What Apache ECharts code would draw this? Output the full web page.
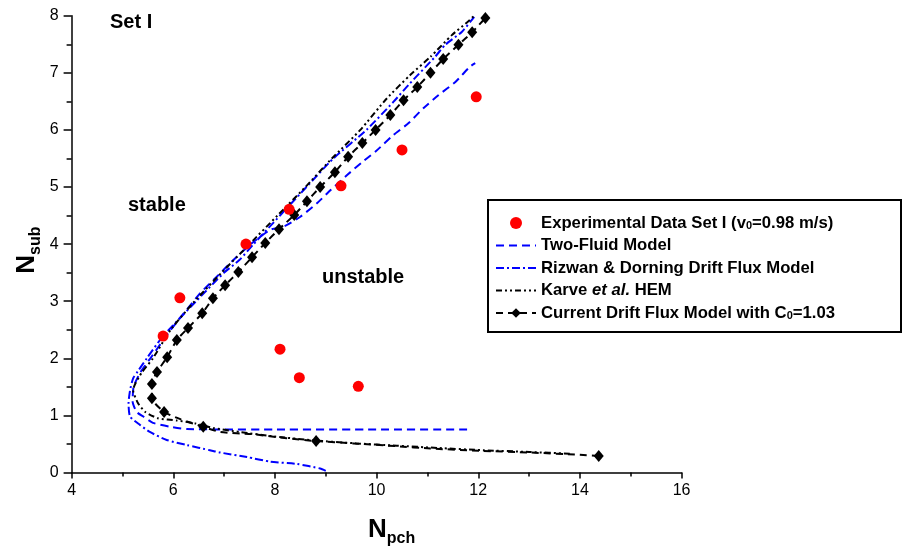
<!DOCTYPE html>
<html><head><meta charset="utf-8">
<script src="https://cdn.jsdelivr.net/npm/echarts@6/dist/echarts.min.js"></script>
<style>html,body{margin:0;padding:0;background:#fff}#c{width:903px;height:554px}</style>
</head><body><div id="c"></div>
<script>
// Experimental data Set I
const expX = [5.80, 6.13, 7.43, 8.28, 9.30, 10.50, 11.96, 8.10, 8.48, 9.64];
const expY = [2.39, 3.06, 4.00, 4.61, 5.02, 5.65, 6.58, 2.16, 1.66, 1.51];

// Two-Fluid Model
const tfX = [11.78, 10.0, 8.0, 7.0, 6.27, 5.94, 5.60, 5.41, 5.28, 5.20, 5.22, 5.35, 5.55, 5.95, 6.53, 6.79, 7.25, 7.58, 7.91, 8.20, 8.50, 8.82, 9.10, 9.42, 9.71, 9.99, 10.33, 10.63, 10.92, 11.22, 11.55, 11.84, 11.94];
const tfY = [0.755, 0.755, 0.755, 0.755, 0.76, 0.80, 0.87, 0.98, 1.06, 1.25, 1.50, 1.75, 2.00, 2.50, 3.14, 3.37, 3.78, 4.04, 4.25, 4.32, 4.48, 4.71, 4.95, 5.21, 5.43, 5.63, 5.91, 6.12, 6.38, 6.61, 6.84, 7.11, 7.17];

// Rizwan & Dorning Drift Flux Model
const rdX = [9.00, 8.89, 8.43, 7.91, 7.45, 6.92, 6.72, 6.27, 5.87, 5.54, 5.35, 5.15, 5.12, 5.15, 5.21, 5.30, 5.48, 5.80, 6.45, 7.00, 7.30, 7.58, 8.10, 8.62, 9.15, 9.80, 10.33, 10.63, 11.15, 11.35, 11.68, 11.92];
const rdY = [0.03, 0.07, 0.15, 0.19, 0.27, 0.35, 0.39, 0.48, 0.57, 0.71, 0.83, 0.98, 1.21, 1.44, 1.65, 1.77, 2.00, 2.39, 3.00, 3.50, 3.72, 4.00, 4.50, 5.00, 5.50, 6.00, 6.49, 6.79, 7.28, 7.49, 7.72, 7.98];

// Karve et al. HEM
const kvX = [13.80, 13.00, 12.10, 11.20, 10.40, 9.60, 8.80, 8.00, 7.30, 6.79, 6.43, 6.07, 5.70, 5.45, 5.31, 5.21, 5.25, 5.38, 5.60, 5.95, 6.42, 6.95, 7.50, 8.05, 8.60, 9.12, 9.68, 10.20, 10.66, 11.06, 11.48, 11.80, 11.92];
const kvY = [0.33, 0.36, 0.39, 0.43, 0.47, 0.51, 0.56, 0.63, 0.71, 0.78, 0.86, 0.91, 0.95, 1.06, 1.21, 1.44, 1.55, 1.75, 2.00, 2.50, 3.00, 3.50, 4.00, 4.50, 5.00, 5.50, 6.00, 6.55, 6.96, 7.28, 7.66, 7.90, 8.00];

// Current Drift Flux Model with C0=1.03 (mark: 1 = diamond drawn at point)
const cdX = [14.37, 14.00, 13.02, 12.04, 11.06, 10.40, 9.54, 8.81, 8.23, 7.57, 6.92, 6.59, 6.15, 5.82, 5.58, 5.58, 5.68, 5.88, 6.07, 6.29, 6.57, 6.78, 7.02, 7.28, 7.55, 7.81, 8.08, 8.38, 8.63, 8.89, 9.18, 9.44, 9.72, 9.98, 10.27, 10.53, 10.80, 11.06, 11.31, 11.61, 11.88, 12.14];
const cdY = [0.29, 0.31, 0.35, 0.38, 0.42, 0.46, 0.51, 0.55, 0.60, 0.67, 0.71, 0.80, 0.93, 1.06, 1.30, 1.55, 1.76, 2.02, 2.32, 2.53, 2.79, 3.05, 3.28, 3.51, 3.77, 4.02, 4.26, 4.51, 4.75, 5.00, 5.26, 5.53, 5.77, 6.00, 6.26, 6.52, 6.75, 7.00, 7.24, 7.49, 7.71, 7.96];
const cdMark = [1, 0, 0, 0, 0, 0, 0, 1, 0, 0, 0, 1, 0, 1, 1, 1, 1, 1, 1, 1, 1, 1, 1, 1, 1, 1, 1, 1, 1, 1, 1, 1, 1, 1, 1, 1, 1, 1, 1, 1, 1, 1];

const xTicks = {min: 4, max: 16, interval: 2};
const yTicks = {min: 0, max: 8, interval: 1};

const names = ['Experimental Data Set I (v0=0.98 m/s)', 'Two-Fluid Model', 'Rizwan & Dorning Drift Flux Model', 'Karve et al. HEM', 'Current Drift Flux Model with C0=1.03'];
const legendRich = {
  ['Experimental Data Set I (v0=0.98 m/s)']: '{b|Experimental Data Set I (v}{s|0}{b|=0.98 m/s)}',
  ['Two-Fluid Model']: '{b|Two-Fluid Model}',
  ['Rizwan & Dorning Drift Flux Model']: '{b|Rizwan & Dorning Drift Flux Model}',
  ['Karve et al. HEM']: '{b|Karve }{i|et al.}{b| HEM}',
  ['Current Drift Flux Model with C0=1.03']: '{b|Current Drift Flux Model with C}{s|0}{b|=1.03}'
};

const FF = '"Liberation Sans", Arial, sans-serif';
const pairs = (xs, ys) => xs.map((x, i) => [x, ys[i]]);

const chart = echarts.init(document.getElementById('c'), null, {renderer: 'canvas'});
chart.setOption({
  animation: false,
  backgroundColor: '#fff',
  grid: {left: 71.6, right: 221.4, top: 15.7, bottom: 81.5, containLabel: false, outerBoundsMode: 'none'},
  xAxis: {
    type: 'value', min: xTicks.min, max: xTicks.max, interval: xTicks.interval,
    axisLine: {show: true, onZero: false, lineStyle: {color: '#000', width: 1.5}},
    axisTick: {show: true, length: 6, lineStyle: {color: '#000', width: 1.5}},
    minorTick: {show: true, splitNumber: 2, length: 4, lineStyle: {color: '#000', width: 1.5}},
    splitLine: {show: false}, minorSplitLine: {show: false},
    axisLabel: {color: '#000', fontSize: 16, fontFamily: FF, margin: 10},
    name: '{n|N}{s|pch}', nameLocation: 'middle', nameGap: 44, nameMoveOverlap: false,
    nameTextStyle: {rich: {
      n: {fontSize: 26, fontWeight: 'bold', fontFamily: FF, color: '#000', lineHeight: 26, padding: [0, 0, 0, 30]},
      s: {fontSize: 16, fontWeight: 'bold', fontFamily: FF, color: '#000', lineHeight: 16, padding: [18, 0, 0, 0]}
    }}
  },
  yAxis: {
    type: 'value', min: yTicks.min, max: yTicks.max, interval: yTicks.interval,
    axisLine: {show: true, onZero: false, lineStyle: {color: '#000', width: 1.5}},
    axisTick: {show: true, length: 8, lineStyle: {color: '#000', width: 1.5}},
    minorTick: {show: true, splitNumber: 2, length: 5, lineStyle: {color: '#000', width: 1.5}},
    splitLine: {show: false}, minorSplitLine: {show: false},
    axisLabel: {color: '#000', fontSize: 16, fontFamily: FF, margin: 13},
    name: '{n|N}{s|sub}', nameLocation: 'middle', nameGap: 32, nameRotate: 90, nameMoveOverlap: false,
    nameTextStyle: {rich: {
      n: {fontSize: 26, fontWeight: 'bold', fontFamily: FF, color: '#000', lineHeight: 26},
      s: {fontSize: 16, fontWeight: 'bold', fontFamily: FF, color: '#000', lineHeight: 16, padding: [18, 12, 0, 0]}
    }}
  },
  legend: {
    orient: 'vertical', left: 488, top: 200,
    itemWidth: 40, itemHeight: 12, itemGap: 5.5,
    padding: [14.5, 10, 12, 7],
    backgroundColor: 'transparent', borderWidth: 0,
    selectedMode: false,
    formatter: n => legendRich[n],
    textStyle: {color: '#000', fontFamily: FF, fontWeight: 'bold', fontSize: 16.7, lineHeight: 12,
      rich: {
        b: {fontSize: 16.7, fontWeight: 'bold', fontFamily: FF, color: '#000', lineHeight: 12},
        i: {fontSize: 16.7, fontWeight: 'bold', fontStyle: 'italic', fontFamily: FF, color: '#000', lineHeight: 12},
        s: {fontSize: 11, fontWeight: 'bold', fontFamily: FF, color: '#000', lineHeight: 8, padding: [5, 0, 0, 0]}
      }},
    data: [
      {name: names[0]},
      {name: names[1], itemStyle: {opacity: 0}},
      {name: names[2], itemStyle: {opacity: 0}},
      {name: names[3], itemStyle: {opacity: 0}},
      {name: names[4]}
    ]
  },
  graphic: [
    {type: 'rect', z: 0, shape: {x: 488, y: 200, width: 413, height: 132}, style: {fill: '#fff', stroke: '#000', lineWidth: 2}},
    {type: 'text', x: 110, y: 22, style: {text: 'Set I', font: 'bold 20px ' + FF, fill: '#000', verticalAlign: 'middle'}},
    {type: 'text', x: 128, y: 205, style: {text: 'stable', font: 'bold 20px ' + FF, fill: '#000', verticalAlign: 'middle'}},
    {type: 'text', x: 322, y: 277, style: {text: 'unstable', font: 'bold 20px ' + FF, fill: '#000', verticalAlign: 'middle'}}
  ],
  series: [
    {name: names[1], type: 'line', data: pairs(tfX, tfY), showSymbol: false, symbol: 'none', smooth: 0.2, z: 3,
      lineStyle: {color: '#0000FF', width: 2, type: [8, 5]}, itemStyle: {color: '#0000FF'}},
    {name: names[2], type: 'line', data: pairs(rdX, rdY), showSymbol: false, symbol: 'none', smooth: 0.2, z: 3,
      lineStyle: {color: '#0000FF', width: 2, type: [8, 3, 2, 3]}, itemStyle: {color: '#0000FF'}},
    {name: names[3], type: 'line', data: pairs(kvX, kvY), showSymbol: false, symbol: 'none', smooth: 0.2, z: 4,
      lineStyle: {color: '#000', width: 2, type: [6, 3, 2, 3, 2, 3]}, itemStyle: {color: '#000'}},
    {name: names[4], type: 'line', smooth: 0.2, z: 5,
      data: cdX.map((x, i) => cdMark[i] ? {value: [x, cdY[i]]} : {value: [x, cdY[i]], symbol: 'none'}),
      symbol: 'diamond', symbolSize: [10, 12], showAllSymbol: true,
      lineStyle: {color: '#000', width: 2, type: [7, 5]}, itemStyle: {color: '#000'}},
    {name: names[0], type: 'scatter', data: pairs(expX, expY), symbol: 'circle', symbolSize: 11, z: 6,
      itemStyle: {color: '#FF0000', opacity: 1}}
  ]
});
</script></body></html>
